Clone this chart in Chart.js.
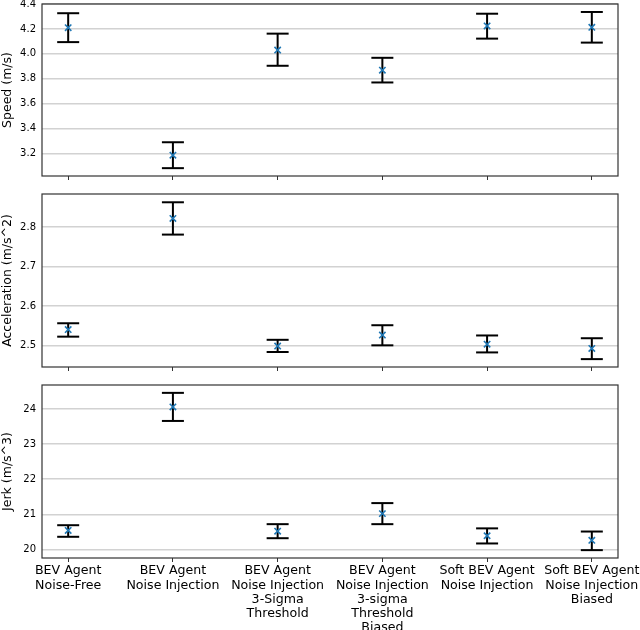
<!DOCTYPE html>
<html>
<head>
<meta charset="utf-8">
<script src="https://cdn.jsdelivr.net/npm/chart.js@4/dist/chart.umd.min.js"></script>
<style>
  body { margin: 0; background: #fff; }
  #wrap { position: relative; width: 640px; height: 630px; }
  canvas { position: absolute; left: 0; }
</style>
</head>
<body>
<div id="wrap">
  <canvas id="speed" width="640" height="182" style="top:0px"></canvas>
  <canvas id="accel" width="640" height="183" style="top:190px"></canvas>
  <canvas id="jerk" width="640" height="249" style="top:381px"></canvas>
</div>
<script>
// categories (x axis)
var categories = [
  ["BEV Agent", "Noise-Free"],
  ["BEV Agent", "Noise Injection"],
  ["BEV Agent", "Noise Injection", "3-Sigma", "Threshold"],
  ["BEV Agent", "Noise Injection", "3-sigma", "Threshold", "Biased"],
  ["Soft BEV Agent", "Noise Injection"],
  ["Soft BEV Agent", "Noise Injection", "Biased"]
];

// speed (m/s)
var speedMean = [4.21, 3.186, 4.03, 3.869, 4.224, 4.213];
var speedLow  = [4.094, 3.082, 3.904, 3.770, 4.122, 4.090];
var speedHigh = [4.326, 3.290, 4.162, 3.968, 4.322, 4.336];
var speedTicks = [3.2, 3.4, 3.6, 3.8, 4.0, 4.2, 4.4];

// acceleration (m/s^2)
var accMean = [2.540, 2.822, 2.498, 2.526, 2.503, 2.492];
var accLow  = [2.522, 2.781, 2.483, 2.500, 2.482, 2.465];
var accHigh = [2.556, 2.863, 2.514, 2.551, 2.525, 2.518];
var accTicks = [2.5, 2.6, 2.7, 2.8];

// jerk (m/s^3)
var jerkMean = [20.54, 24.06, 20.52, 21.02, 20.39, 20.26];
var jerkLow  = [20.36, 23.66, 20.32, 20.72, 20.17, 19.98];
var jerkHigh = [20.69, 24.46, 20.72, 21.32, 20.60, 20.51];
var jerkTicks = [20, 21, 22, 23, 24];

var FONT = "'DejaVu Sans', sans-serif";

// box around the plot area, like matplotlib spines
var frame = {
  id: 'frame',
  afterDatasetsDraw: function(chart) {
    var a = chart.chartArea, ctx = chart.ctx;
    ctx.save();
    ctx.strokeStyle = '#333';
    ctx.lineWidth = 1.2;
    ctx.strokeRect(a.left, a.top, a.right - a.left, a.bottom - a.top);
    ctx.restore();
  }
};

function noPad(scale) {
  scale.paddingTop = 0;
  scale.paddingBottom = 0;
  scale.paddingLeft = 0;
  scale.paddingRight = 0;
}

function makePanel(id, title, mean, low, high, ticks, yMin, yMax, decimals, showLabels, xHeight) {
  var stems = [], caps = [], marks = [];
  for (var i = 0; i < mean.length; i++) {
    stems.push({x: i, y: low[i]}, {x: i, y: high[i]}, {x: i, y: null});
    caps.push({x: i, y: low[i]}, {x: i, y: high[i]});
    marks.push({x: i, y: mean[i]});
  }

  return new Chart(document.getElementById(id), {
    type: 'scatter',
    data: {
      datasets: [
        {
          data: marks,
          order: 0,
          pointStyle: 'crossRot',
          pointRadius: 4.5,
          pointBorderWidth: 1.6,
          pointBorderColor: '#1f77b4',
          pointBackgroundColor: '#1f77b4'
        },
        {
          data: stems,
          order: 1,
          showLine: true,
          spanGaps: false,
          borderColor: '#000',
          borderWidth: 2,
          pointRadius: 0
        },
        {
          data: caps,
          order: 1,
          pointStyle: 'line',
          pointRadius: 11,
          pointBorderWidth: 2,
          pointBorderColor: '#000'
        }
      ]
    },
    options: {
      responsive: false,
      animation: false,
      events: [],
      layout: { autoPadding: false, padding: { top: 4, right: 22, left: 0, bottom: 0 } },
      plugins: { legend: { display: false }, tooltip: { enabled: false } },
      scales: {
        x: {
          type: 'linear',
          min: -0.25,
          max: 5.25,
          border: { display: false },
          grid: { display: true, drawOnChartArea: false, drawTicks: true, tickLength: 4, color: '#333', lineWidth: 1 },
          afterBuildTicks: function(scale) {
            scale.ticks = categories.map(function(c, i) { return {value: i}; });
          },
          afterFit: function(scale) { scale.height = xHeight; noPad(scale); },
          ticks: {
            display: showLabels,
            autoSkip: false,
            maxRotation: 0,
            padding: 2,
            color: '#000',
            font: { family: FONT, size: 12.6, lineHeight: 1.13 },
            callback: function(v) { return categories[v]; }
          }
        },
        y: {
          min: yMin,
          max: yMax,
          border: { display: false },
          grid: { color: '#d2d2d2', lineWidth: 1.5, drawTicks: false },
          afterBuildTicks: function(scale) {
            scale.ticks = ticks.map(function(v) { return {value: v}; });
          },
          afterFit: function(scale) { scale.width = 42; noPad(scale); },
          title: {
            display: true,
            text: title,
            color: '#000',
            padding: { top: 0, bottom: 2 },
            font: { family: FONT, size: 12.5 }
          },
          ticks: {
            padding: 6,
            color: '#000',
            font: { family: FONT, size: 10 },
            callback: function(v) { return v.toFixed(decimals); }
          }
        }
      }
    },
    plugins: [frame]
  });
}

makePanel('speed', 'Speed (m/s)', speedMean, speedLow, speedHigh, speedTicks, 3.019, 4.4, 1, false, 6);
makePanel('accel', 'Acceleration (m/s^2)', accMean, accLow, accHigh, accTicks, 2.445, 2.884, 1, false, 6);
makePanel('jerk', 'Jerk (m/s^3)', jerkMean, jerkLow, jerkHigh, jerkTicks, 19.756, 24.684, 0, true, 72);
</script>
</body>
</html>
